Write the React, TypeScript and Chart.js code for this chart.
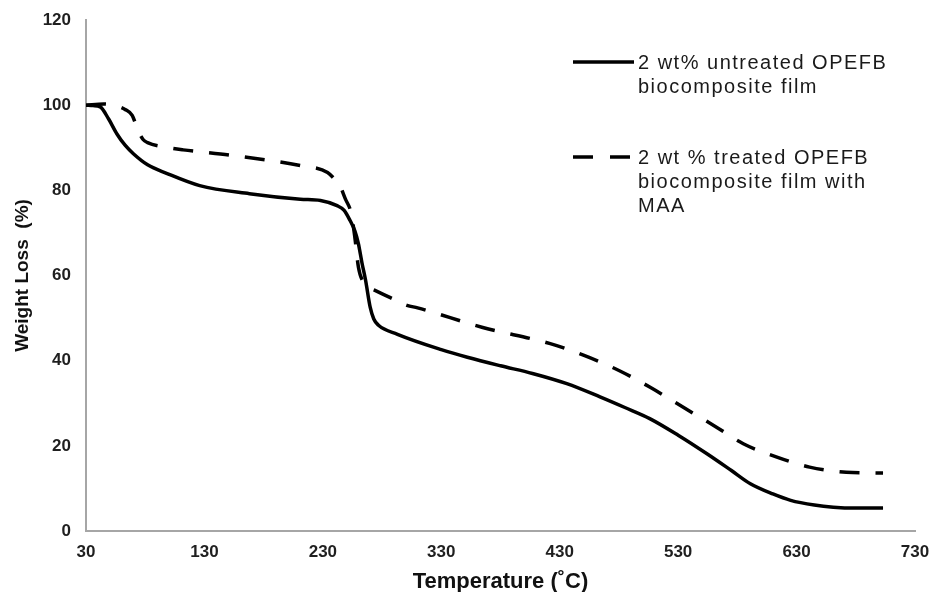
import React, { useEffect, useRef } from "react";
import { Chart, registerables } from "chart.js";

Chart.register(...registerables);

const untreatedTemp = [30, 36, 42, 49, 56, 63, 70, 82, 98, 126, 168, 211, 228, 242, 248, 253, 257, 260, 263, 266, 270, 273, 277, 293, 330, 352, 380, 407, 436, 464, 485, 506, 530, 554, 575, 591, 610, 625, 645, 661, 680, 703];
const untreatedWeight = [100, 99.9, 99.6, 96.8, 93.3, 90.6, 88.6, 86, 84, 81.1, 79.2, 77.9, 77.6, 76.4, 75.3, 72.9, 70.5, 67.5, 63, 59, 52.5, 49.8, 48.3, 46.2, 42.6, 40.8, 38.8, 37, 34.6, 31.5, 29, 26.4, 22.5, 18.2, 14.2, 11.1, 8.7, 7.2, 6.1, 5.6, 5.4, 5.4];

const treatedTemp = [30, 45, 56, 63, 69, 74, 78, 82, 98, 112, 154, 211, 234, 240, 244, 249, 254, 257, 260, 264, 270, 274, 287, 301, 310, 365, 422, 450, 480, 506, 534, 560, 585, 614, 641, 672, 703];
const treatedWeight = [100, 100.3, 99.8, 99, 97.6, 94, 92, 91.2, 90.1, 89.5, 88.2, 85.8, 84.2, 82.6, 81.3, 78, 74.5, 69, 62, 58.5, 57, 56.5, 54.8, 53, 52.4, 47.8, 44, 41.3, 37.7, 33.8, 29.1, 24.8, 20.5, 17.3, 15, 13.8, 13.6];

const seriesLabels = ["2 wt% untreated OPEFB biocomposite film", "2 wt % treated OPEFB biocomposite film with MAA"];
const yTicks = [0, 20, 40, 60, 80, 100, 120];
const xTicks = [30, 130, 230, 330, 430, 530, 630, 730];

const FONT = "'Liberation Sans', Arial, sans-serif";

export default function App() {
  const ref = useRef<HTMLCanvasElement | null>(null);

  useEffect(() => {
    document.body.style.margin = "0";
    const canvas = ref.current;
    if (!canvas) return;
    const chart = new Chart(canvas, {
      type: "line",
      data: {
        datasets: [
          {
            label: seriesLabels[0],
            data: untreatedTemp.map((t, i) => ({ x: t, y: untreatedWeight[i] })),
            borderColor: "#000",
            borderWidth: 3.5,
            pointRadius: 0,
            cubicInterpolationMode: "monotone",
            fill: false,
          },
          {
            label: seriesLabels[1],
            data: treatedTemp.map((t, i) => ({ x: t, y: treatedWeight[i] })),
            borderColor: "#000",
            borderWidth: 3.5,
            borderDash: [20, 16],
            pointRadius: 0,
            cubicInterpolationMode: "monotone",
            fill: false,
          },
        ],
      },
      options: {
        responsive: false,
        animation: false,
        layout: { padding: { left: 0, top: 20, right: 19, bottom: 0 } },
        plugins: { legend: { display: false }, tooltip: { enabled: false } },
        scales: {
          x: {
            type: "linear",
            min: 30,
            max: 730,
            afterBuildTicks: (scale: any) => {
              scale.ticks = xTicks.map((v) => ({ value: v }));
            },
            afterFit: (scale: any) => {
              scale.height = 61;
              scale.paddingLeft = 0;
              scale.paddingRight = 0;
            },
            grid: { display: false, drawTicks: false },
            border: { display: true, color: "#a6a6a6", width: 2 },
            ticks: {
              padding: 11,
              color: "#1f1f1f",
              font: { family: FONT, size: 17, weight: "bold" },
              maxRotation: 0,
            },
            title: {
              display: true,
              text: "Temperature (˚C)",
              color: "#111",
              font: { family: FONT, size: 22, weight: "bold" },
              padding: { top: 0, bottom: -3 },
            },
          },
          y: {
            min: 0,
            max: 120,
            afterBuildTicks: (scale: any) => {
              scale.ticks = yTicks.map((v) => ({ value: v }));
            },
            afterFit: (scale: any) => {
              scale.width = 86;
              scale.paddingTop = 0;
              scale.paddingBottom = 0;
            },
            grid: { display: false, drawTicks: false },
            border: { display: true, color: "#a6a6a6", width: 2 },
            ticks: {
              padding: 15,
              color: "#1f1f1f",
              font: { family: FONT, size: 17, weight: "bold" },
            },
            title: {
              display: true,
              text: "Weight Loss  (%)",
              color: "#111",
              font: { family: FONT, size: 19, weight: "bold" },
              padding: { top: 11, bottom: 0 },
            },
          },
        },
      },
    });
    return () => chart.destroy();
  }, []);

  const textStyle: React.CSSProperties = {
    position: "absolute",
    left: 638,
    fontFamily: FONT,
    fontSize: 20,
    lineHeight: "24px",
    letterSpacing: "1.5px",
    color: "#1a1a1a",
    whiteSpace: "nowrap",
  };

  return (
    <div style={{ position: "relative", width: 934, height: 592 }}>
      <canvas ref={ref} width={934} height={592} style={{ display: "block" }} />
      <svg width={934} height={592} style={{ position: "absolute", left: 0, top: 0, pointerEvents: "none" }}>
        <line x1={573} y1={62} x2={634} y2={62} stroke="#000" strokeWidth={3.5} />
        <line x1={573} y1={157} x2={634} y2={157} stroke="#000" strokeWidth={3.5} strokeDasharray="20 17" />
      </svg>
      <div style={{ ...textStyle, top: 50 }}>
        2 wt% untreated OPEFB
        <br />
        biocomposite film
      </div>
      <div style={{ ...textStyle, top: 145 }}>
        2 wt % treated OPEFB
        <br />
        biocomposite film with
        <br />
        MAA
      </div>
    </div>
  );
}
